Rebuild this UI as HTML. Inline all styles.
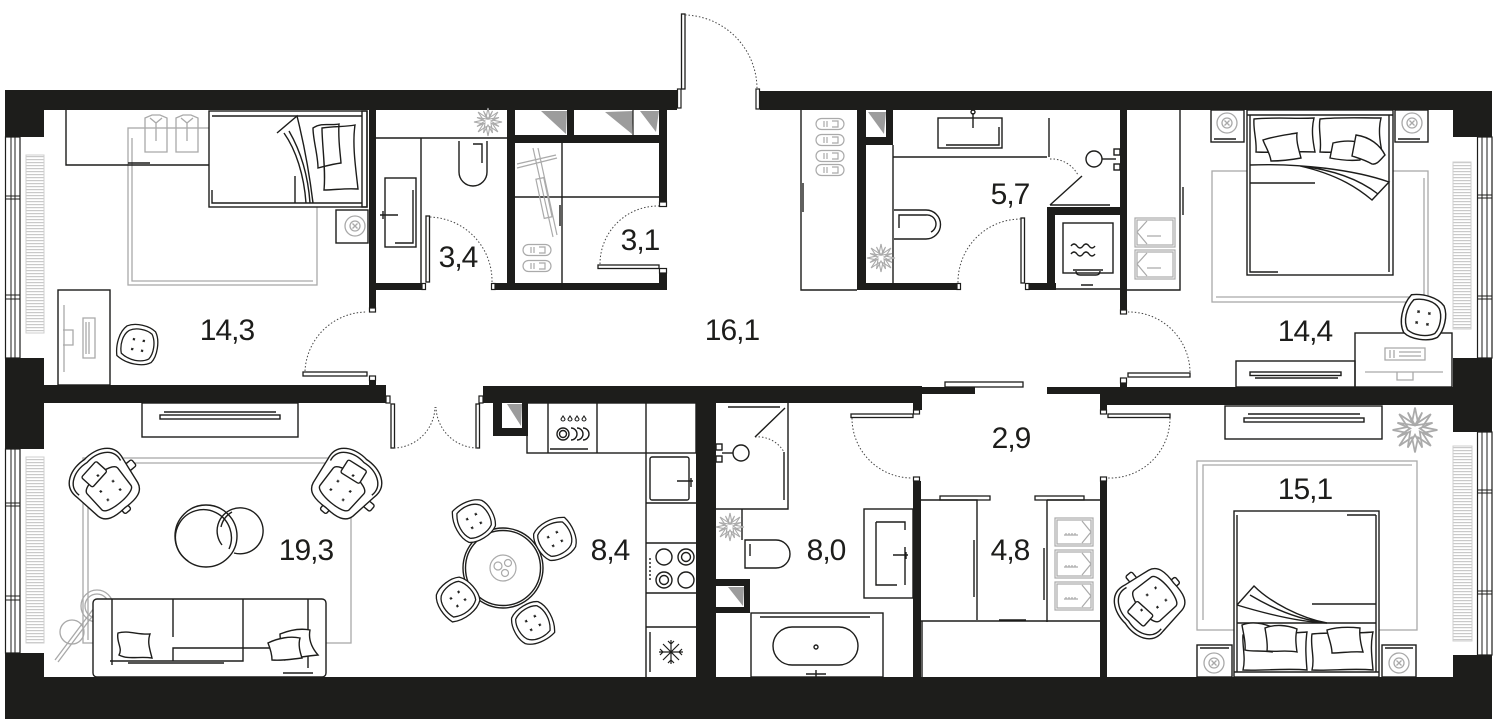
<!DOCTYPE html>
<html><head><meta charset="utf-8">
<style>
html,body{margin:0;padding:0;background:#fff;}
svg{display:block;}
.lbl{font-family:"Liberation Sans",sans-serif;font-size:30px;fill:#1d1d1b;letter-spacing:-1px;text-anchor:middle;}
</style></head><body>
<svg width="1500" height="726" viewBox="0 0 1500 726" xmlns="http://www.w3.org/2000/svg">
<defs>
<pattern id="rad" width="6" height="3" patternUnits="userSpaceOnUse"><rect width="6" height="3" fill="#fff"/><rect width="6" height="1.2" fill="#c9c9c9"/></pattern>
<g id="chair" fill="#fff" stroke="#1d1d1b" stroke-width="1.3">
<path d="M-14,-19 C-4,-22 10,-21 17,-14 C22,-6 21,8 16,15 C8,21 -8,21 -15,16 C-21,8 -21,-8 -14,-19Z"/>
<path d="M-11,-15 C-3,-18 8,-17 13,-11 C17,-5 17,6 13,12 C6,17 -6,17 -12,13 C-17,6 -17,-6 -11,-15Z" fill="none"/>
<path d="M-6,-6l2,2m0,-2l-2,2 M4,-6l2,2m0,-2l-2,2 M-6,4l2,2m0,-2l-2,2 M4,4l2,2m0,-2l-2,2" fill="none" stroke-width="1.1"/>
</g>
<g id="arm" fill="#fff" stroke="#1d1d1b" stroke-width="1.4">
<rect x="-4" y="27" width="8" height="9" rx="2"/>
<rect x="27" y="-2" width="9" height="8" rx="2"/>
<path d="M-30,-8 C-34,-26 -16,-34 0,-32 C16,-34 34,-26 30,-8 L26,20 C24,30 14,32 0,31 C-14,32 -24,30 -26,20 Z"/>
<path d="M-27,-8 C-30,-23 -14,-30 0,-28 C14,-30 30,-23 27,-8" fill="none"/>
<path d="M-20,-4 C-20,-14 20,-14 20,-4 L19,18 C18,26 -18,26 -19,18 Z"/>
<rect x="-11" y="-22" width="22" height="15" rx="2" transform="rotate(-8)"/>
<path d="M-9,2l2,2m0,-2l-2,2 M7,2l2,2m0,-2l-2,2 M-9,13l2,2m0,-2l-2,2 M7,13l2,2m0,-2l-2,2 M-1,-12l2,2m0,-2l-2,2" fill="none" stroke-width="1.1"/>
</g>
<g id="ns" fill="none" stroke="#a9a9a9" stroke-width="1.3"><circle r="10"/><circle r="5"/><path d="M-2.5,-2.5l5,5m0,-5l-5,5"/></g>
<g id="plant" fill="none" stroke="#aaa" stroke-width="1.1">
<polygon points="14,0 4.6,1.9 9.9,9.9 1.9,4.6 0,14 -1.9,4.6 -9.9,9.9 -4.6,1.9 -14,0 -4.6,-1.9 -9.9,-9.9 -1.9,-4.6 0,-14 1.9,-4.6 9.9,-9.9 4.6,-1.9"/>
<polygon points="11,4.5 3,1 4.5,11 0,3 -4.5,11 -3,1 -11,4.5 -3,-1 -11,-4.5 -1,-3 -4.5,-11 0,-3 4.5,-11 1,-3 11,-4.5 3,-1"/>
</g>
<g id="shoe" fill="none" stroke="#aaa" stroke-width="1.2"><rect x="-14" y="-5.5" width="28" height="11" rx="5.5"/><path d="M-6,-3v6 M-3,-3v6 M2,-3h6v6h-6"/></g>
<g id="box" fill="none" stroke="#aaa" stroke-width="1.2"><rect x="-19" y="-14" width="38" height="28"/><rect x="-17" y="-12" width="34" height="24"/><path d="M8,-11 L17,0 L8,11 M-10,3h14 M-8,1v2 M-5,1v2 M-2,1v2 M1,1v2"/></g>
</defs>

<!-- radiators -->
<g stroke="#cfcfcf" stroke-width="1">
<rect x="26" y="155" width="18" height="178" fill="url(#rad)"/>
<rect x="26" y="457" width="18" height="186" fill="url(#rad)"/>
<rect x="1453" y="162" width="18" height="167" fill="url(#rad)"/>
<rect x="1453" y="446" width="19" height="195" fill="url(#rad)"/>
</g>

<!-- windows -->
<g fill="#fff" stroke="#1d1d1b" stroke-width="1.2">
<rect x="5.5" y="137" width="14.5" height="221"/><rect x="5.5" y="449" width="14.5" height="204"/>
<rect x="1477.5" y="137" width="14.5" height="221"/><rect x="1477.5" y="432" width="14.5" height="223"/>
</g>
<g stroke="#1d1d1b" stroke-width="1">
<path d="M11,137V358 M15,137V358 M11,449V653 M15,449V653 M1482,137V358 M1487,137V358 M1482,432V655 M1487,432V655"/>
<path d="M5,196H20 M5,199H20 M5,295H20 M5,299H20 M5,503H20 M5,506H20 M5,596H20 M5,600H20 M1477,195H1492 M1477,198H1492 M1477,296H1492 M1477,299H1492 M1477,490H1492 M1477,493H1492 M1477,591H1492 M1477,594H1492"/>
</g>

<!-- walls -->
<g fill="#1d1d1b">
<rect x="5" y="90" width="672" height="20"/>
<rect x="760" y="91" width="732" height="19"/>
<rect x="5" y="90" width="39" height="47"/>
<rect x="5" y="358" width="39" height="91"/>
<rect x="5" y="385" width="381" height="18"/>
<rect x="5" y="653" width="39" height="66"/>
<rect x="5" y="677" width="1487" height="42"/>
<rect x="1453" y="91" width="39" height="46"/>
<rect x="1453" y="358" width="39" height="74"/>
<rect x="1453" y="655" width="39" height="64"/>
<rect x="1100" y="387" width="353" height="18"/>
<rect x="369" y="110" width="7" height="198"/>
<rect x="369" y="380" width="7" height="6"/>
<rect x="376" y="283" width="46" height="7"/>
<rect x="507" y="110" width="8" height="180"/>
<rect x="495" y="283" width="172" height="7"/>
<rect x="507" y="135" width="160" height="8"/>
<rect x="567" y="110" width="7" height="26"/>
<rect x="659" y="110" width="8" height="92"/>
<rect x="659" y="273" width="8" height="17"/>
<rect x="857" y="110" width="9" height="180"/>
<rect x="886" y="110" width="7" height="35"/>
<rect x="857" y="137" width="36" height="8"/>
<rect x="857" y="283" width="100" height="7"/>
<rect x="1029" y="283" width="27" height="7"/>
<rect x="1047" y="207" width="8" height="83"/>
<rect x="1047" y="207" width="80" height="8"/>
<rect x="1120" y="110" width="7" height="200"/>
<rect x="1120" y="383" width="7" height="5"/>
<rect x="483" y="386" width="439" height="17"/>
<rect x="922" y="387" width="53" height="7"/>
<rect x="1047" y="387" width="53" height="7"/>
<rect x="913" y="403" width="9" height="7"/>
<rect x="1100" y="403" width="7" height="7"/>
<rect x="493" y="403" width="35" height="33"/>
<rect x="696" y="403" width="20" height="274"/>
<rect x="913" y="481" width="8" height="196"/>
<rect x="1100" y="481" width="7" height="196"/>
<rect x="716" y="579" width="34" height="34"/>
</g>
<!-- shafts inner -->
<rect x="502" y="403" width="20" height="25" fill="#fff"/>
<polygon points="507,404 522,404 521,426" fill="#9c9c9c"/>
<rect x="716" y="586" width="28" height="21" fill="#fff"/>
<polygon points="728,587 744,587 743,606" fill="#9c9c9c"/>
<!-- shelf cells top -->
<g fill="#9c9c9c">
<polygon points="541,111 567,111 566,134"/>
<polygon points="605,112 633,111 632,134"/>
<polygon points="640,111 659,111 656,132"/>
<polygon points="868,112 886,112 884,134"/>
</g>
<line x1="633" y1="110" x2="633" y2="135" stroke="#1d1d1b" stroke-width="1.2"/>

<!-- jambs -->
<g fill="#fff" stroke="#1d1d1b" stroke-width="1.2">
<rect x="677.5" y="89" width="3.5" height="19"/>
<rect x="756" y="89" width="3.5" height="20"/>
<rect x="369.5" y="308" width="6" height="4"/>
<rect x="369.5" y="376" width="6" height="4.5"/>
<rect x="422" y="283.5" width="3.5" height="6"/>
<rect x="491.5" y="283.5" width="3.5" height="6"/>
<rect x="659.5" y="202" width="7" height="4.5"/>
<rect x="659.5" y="268.5" width="7" height="4.5"/>
<rect x="957" y="283.5" width="3.5" height="6"/>
<rect x="1025.5" y="283.5" width="3.5" height="6"/>
<rect x="1120.5" y="310" width="6" height="4"/>
<rect x="1120.5" y="378" width="6" height="5"/>
<rect x="386" y="396" width="4" height="7"/>
<rect x="479" y="396" width="4" height="7"/>
<rect x="913.5" y="410" width="6" height="4"/>
<rect x="1100.5" y="410" width="6" height="4"/>
<rect x="913.5" y="477" width="6" height="4"/>
<rect x="1100.5" y="477" width="6" height="4"/>
</g>

<!-- door leaves -->
<g fill="#fff" stroke="#1d1d1b" stroke-width="1.3">
<rect x="681.5" y="14" width="3.5" height="75"/>
<rect x="303" y="372" width="64" height="4"/>
<rect x="426" y="216" width="3.5" height="66"/>
<rect x="598" y="265" width="61" height="3.5"/>
<rect x="1021" y="218" width="3.5" height="65"/>
<rect x="1128" y="373" width="62" height="4"/>
<rect x="391" y="404" width="3.5" height="44"/>
<rect x="476" y="404" width="3.5" height="44"/>
<rect x="851" y="414" width="62" height="3.5"/>
<rect x="1108" y="414" width="62" height="3.5"/>
<rect x="945" y="382" width="78" height="5"/>
<rect x="940" y="496" width="50" height="4"/>
<rect x="1035" y="496" width="49" height="4"/>
</g>
<g fill="none" stroke="#444" stroke-width="1" stroke-dasharray="1.5 2">
<path d="M685,15 A74,74 0 0 1 757,88"/>
<path d="M305,371 A62,62 0 0 1 367,312"/>
<path d="M430,217 A64,64 0 0 1 492,282"/>
<path d="M600,264 A58,58 0 0 1 659,206"/>
<path d="M1021,219 A63,63 0 0 0 958,283"/>
<path d="M1190,372 A61,61 0 0 0 1128,312"/>
<path d="M394,448 A42,42 0 0 0 435,407"/>
<path d="M477,448 A42,42 0 0 1 436,407"/>
<path d="M852,418 A60,60 0 0 0 912,478"/>
<path d="M1170,418 A60,60 0 0 1 1108,478"/>
<path d="M1050,159 A30,30 0 0 1 1078,175"/>
<path d="M755,437 A30,30 0 0 1 784,452"/>
</g>

<!-- ===== BEDROOM 14,3 ===== -->
<g fill="none" stroke="#a9a9a9" stroke-width="1.3">
<rect x="128" y="128" width="189" height="157"/>
<path d="M132,138 V281 H313"/>
<path d="M145,118 l7,-3 h8 l7,3 v34 h-22z M150,118 l6,5 6,-5 M156,123 v18" />
<path d="M176,118 l7,-3 h8 l7,3 v34 h-22z M181,118 l6,5 6,-5 M187,123 v18" />
<path d="M64,305 V372 M63,330 h10 v15 h-10 M83,318 h12 v40 h-12z M86,322 v32 M89,322 v32"/>
</g>
<g fill="none" stroke="#1d1d1b" stroke-width="1.4">
<path d="M66,110 V165 H209"/>
<path d="M128,163 H150"/>
<rect x="209" y="111" width="158" height="96" fill="#fff"/>
<path d="M212,116 H362 M212,190 V203 H362 M295,176 V203"/>
<rect x="362" y="111" width="5" height="96"/>
<path d="M277,133 L297,116 C303,140 309,170 313,203 M284,133 C296,150 304,175 306,203 M289,131 C300,150 308,175 310,203"/>
<path d="M322,128 C335,126 345,127 355,125 C352,145 356,170 358,189 C345,188 335,190 324,190 C326,170 322,145 322,128Z"/>
<path d="M313,128 C322,122 330,126 339,124 C338,140 340,150 341,163 C333,164 326,166 318,168 C318,155 313,140 313,128Z"/>
<rect x="336" y="210" width="32" height="33"/>
<rect x="58" y="290" width="52" height="95"/>
</g>
<use href="#ns" x="355" y="226"/>
<use href="#chair" transform="translate(138,345) rotate(-80)"/>

<!-- ===== BATH 3,4 ===== -->
<use href="#plant" x="488" y="122"/>
<g fill="none" stroke="#1d1d1b" stroke-width="1.4">
<path d="M376,138 H507 M421,138 V283"/>
<path d="M459,141 V172 A14,14 0 0 0 487,172 V141"/>
<path d="M473,144 H482 V163"/>
<rect x="385" y="178" width="31" height="69"/>
<path d="M413,190 V243 H395"/>
<path d="M380,215 H398 M383,211 V219"/>
</g>

<!-- ===== STORAGE 3,1 ===== -->
<g fill="none" stroke="#1d1d1b" stroke-width="1.4">
<path d="M515,197 H659 M562,143 V290 M560,205 V226"/>
</g>
<g fill="none" stroke="#aaa" stroke-width="1.2">
<path d="M533,148 L553,237 M538,148 L557,235 M517,168 L557,158 M517,164 L556,155"/>
<rect x="540" y="178" width="8" height="40" transform="rotate(-12 544 198)"/>
</g>
<use href="#shoe" x="537" y="250"/>
<use href="#shoe" x="537" y="266"/>

<!-- ===== HALL RIGHT: wardrobe + BATH 5,7 ===== -->
<g fill="none" stroke="#1d1d1b" stroke-width="1.4">
<path d="M801,110 V290 H857 M803,183 V212"/>
<path d="M893,145 V283 M893,157 H1047"/>
<rect x="938" y="118" width="64" height="30"/>
<path d="M999,127 V145 H946 M973,113 V128"/>
<circle cx="973" cy="112" r="2"/>
<path d="M894,210 H926 A14.5,14.5 0 0 1 926,239 H894"/>
<path d="M899,228 V215 H926 A9,9 0 0 1 931,232"/>
<path d="M1049,118 V157 M1050,205 H1110 M1050,205 L1082,176"/>
<circle cx="1094" cy="159" r="8"/>
<path d="M1102,159 H1116"/>
<rect x="1114" y="149" width="6" height="6"/><rect x="1114" y="164" width="6" height="6"/>
<rect x="1063" y="223" width="50" height="50"/>
<path d="M1071,246 q3,-4 6,0 t6,0 t6,0 t6,0 M1071,254 q3,-4 6,0 t6,0 t6,0 t6,0"/>
<path d="M1073,270 H1103 M1076,271 q0,4 4,4 h16 q4,0 4,-4"/>
<path d="M1056,289 H1120 M1081,285 H1093"/>
<path d="M1127,290 H1180 V110 M1183,187 V215"/>
</g>
<use href="#shoe" x="830" y="124"/><use href="#shoe" x="830" y="140"/>
<use href="#shoe" x="830" y="156"/><use href="#shoe" x="830" y="170"/>
<use href="#plant" x="881" y="258"/>
<g fill="none" stroke="#aaa" stroke-width="1.2">
<rect x="1135" y="218" width="40" height="29"/><rect x="1137" y="220" width="36" height="25"/>
<rect x="1135" y="250" width="40" height="29"/><rect x="1137" y="252" width="36" height="25"/>
<path d="M1147,221 L1137,232 L1147,244 M1147,236 h14 M1147,253 L1137,264 L1147,276 M1147,268 h14"/>
</g>

<!-- ===== BEDROOM 14,4 ===== -->
<g fill="none" stroke="#a9a9a9" stroke-width="1.3">
<rect x="1212" y="171" width="216" height="131"/>
<path d="M1216,297 H1424 V178"/>
<path d="M1385,348 h40 v12 h-40z M1390,350 v8 M1394,350 v8 M1399,352 h22 M1399,356 h22 M1365,372 h78 M1397,372 v8 h16 v-8"/>
</g>
<g fill="none" stroke="#1d1d1b" stroke-width="1.4">
<rect x="1211" y="110" width="33" height="32"/>
<rect x="1395" y="110" width="33" height="32"/>
<path d="M1214,139 H1236 M1398,139 H1420"/>
<rect x="1247" y="110" width="146" height="165" fill="#fff"/>
<path d="M1247,115 H1393 M1250,115 V272 H1278 M1389,115 V272"/>
<path d="M1254,119 C1275,117 1295,119 1314,118 C1311,130 1313,142 1315,152 C1295,151 1275,153 1256,152 C1257,140 1253,130 1254,119Z"/>
<path d="M1320,119 C1340,117 1360,118 1381,118 C1378,130 1380,142 1382,152 C1362,151 1340,153 1320,152 C1322,140 1318,130 1320,119Z"/>
<path d="M1263,140 C1275,136 1285,135 1297,133 C1296,142 1299,150 1301,158 C1290,160 1280,161 1271,161 C1270,153 1265,146 1263,140Z" fill="#fff"/>
<path d="M1333,143 C1345,140 1355,141 1362,143 L1360,160 C1350,161 1340,160 1330,158Z" fill="#fff"/>
<path d="M1356,135 C1370,137 1380,145 1385,155 C1380,160 1377,165 1372,164 C1365,160 1358,158 1352,156Z" fill="#fff"/>
<path d="M1250,165 C1300,163 1355,170 1389,182 L1372,200 C1360,190 1340,175 1300,166 M1300,166 C1335,170 1360,180 1378,194"/>
<path d="M1250,183 H1315"/>
<rect x="1355" y="333" width="97" height="54" fill="#fff"/>
<rect x="1236" y="361" width="119" height="26"/>
<rect x="1250" y="372" width="91" height="3.5"/>
<path d="M1255,378 H1338"/>
</g>
<use href="#ns" x="1227" y="123"/>
<use href="#ns" x="1412" y="123"/>
<g fill="none" stroke="#a9a9a9" stroke-width="1.3">
<path d="M1385,348 h40 v12 h-40z M1390,350 v8 M1394,350 v8 M1399,352 h22 M1399,356 h22 M1365,372 h78 M1397,372 v8 h16 v-8"/>
</g>
<use href="#chair" transform="translate(1423,318) scale(1.1) rotate(10)"/>

<!-- ===== LIVING 19,3 ===== -->
<g fill="none" stroke="#a9a9a9" stroke-width="1.3">
<rect x="83" y="458" width="268" height="185"/>
<path d="M88,640 V463 H346"/>
<circle cx="97" cy="606" r="16"/><circle cx="97" cy="606" r="12"/>
<circle cx="72" cy="632" r="12"/>
<path d="M55,660 L94,608 M58,662 L97,610"/>
</g>
<g fill="none" stroke="#1d1d1b" stroke-width="1.4">
<rect x="142" y="403" width="156" height="34"/>
<rect x="160" y="415" width="120" height="4"/>
<path d="M164,412 H276"/>
<circle cx="206" cy="536" r="31"/>
<path d="M188,561 A28,28 0 1 1 229,549"/>
<path d="M222,545 A23,23 0 1 1 234,553"/>
<path d="M221,527 A23,23 0 0 1 232,512" />
<rect x="93" y="599" width="233" height="78" rx="4" fill="#fff"/>
<path d="M112,599 V665 M173,599 V637 M243,599 V660 M308,599 V668 M110,661 H173 M173,648 H243 V661 H173Z M243,648 H308"/>
<path d="M128,663 H224 M283,673 H313"/>
<path d="M118,633 C128,630 138,635 150,634 C147,642 150,650 152,658 C140,656 128,660 119,655 C123,648 116,642 118,633Z" fill="#fff"/>
<path d="M280,634 C290,630 300,628 310,630 C308,640 312,648 318,655 C306,656 295,658 285,660 C283,652 280,642 280,634Z" fill="#fff"/>
<path d="M268,643 C278,638 290,636 300,638 C298,645 300,652 302,658 C292,659 282,661 272,660 C272,655 270,648 268,643Z" fill="#fff"/>
</g>
<use href="#arm" transform="translate(105,484) rotate(-40)"/>
<use href="#arm" transform="translate(346,484) rotate(40)"/>

<!-- ===== KITCHEN 8,4 ===== -->
<g fill="none" stroke="#1d1d1b" stroke-width="1.4">
<rect x="527" y="403" width="169" height="50"/>
<path d="M548,403 V453 M597,403 V453 M646,403 V677 M646,503 H696 M646,543 H696 M646,593 H696 M646,627 H696"/>
<path d="M550,449 H588"/>
<circle cx="563" cy="434" r="6"/><circle cx="563" cy="434" r="3.5"/>
<path d="M571,428 a6,6 0 0 1 0,12 M577,428 a6,6 0 0 1 0,12 M583,428 a6,6 0 0 1 0,12"/>
<path d="M563,416 l-2,3 a2,2 0 0 0 4,0z M570,416 l-2,3 a2,2 0 0 0 4,0z M577,416 l-2,3 a2,2 0 0 0 4,0z M584,416 l-2,3 a2,2 0 0 0 4,0z" stroke-width="1.1"/>
<rect x="650" y="457" width="39" height="43" rx="2"/>
<path d="M677,481 H693 M691,478 V487"/>
<circle cx="664" cy="557" r="8"/><circle cx="686" cy="557" r="8"/><circle cx="686" cy="557" r="4.5"/>
<circle cx="664" cy="580" r="8"/><circle cx="664" cy="580" r="4.5"/><circle cx="686" cy="580" r="8"/>
<path d="M650,558 V581" stroke-dasharray="2 2"/>
<path d="M650,632 V672"/>
<path d="M671,640 V664 M659,652 H683 M663,644 L679,660 M679,644 L663,660 M668,641 l3,3 3,-3 M668,663 l3,-3 3,3 M660,649 l3,3 -3,3 M682,649 l-3,3 3,3" stroke-width="1.2"/>
<circle cx="503" cy="568" r="40" fill="#fff"/>
<circle cx="503" cy="568" r="37.5"/>
</g>
<g fill="none" stroke="#aaa" stroke-width="1.2">
<circle cx="503" cy="568" r="13"/>
<circle cx="498" cy="566" r="4"/><circle cx="508" cy="563" r="3.5"/><circle cx="505" cy="573" r="3.5"/>
</g>
<use href="#chair" transform="translate(474,521) rotate(-30)"/>
<use href="#chair" transform="translate(555,539) rotate(60)"/>
<use href="#chair" transform="translate(533,623) rotate(150)"/>
<use href="#chair" transform="translate(458,599) rotate(230)"/>

<!-- ===== BATH 8,0 ===== -->
<g fill="none" stroke="#1d1d1b" stroke-width="1.4">
<path d="M788,403 V509 H716 M728,407 H780 M785,408 L755,437 M784,452 V500"/>
<circle cx="741" cy="453" r="8"/>
<path d="M722,453 H733"/>
<rect x="716" y="444" width="6" height="6"/><rect x="716" y="456" width="6" height="6"/>
<path d="M742,509 V540"/>
<path d="M745,540 H776 A14,14 0 0 1 776,568 H745 Z"/>
<path d="M750,544 V556"/>
<rect x="751" y="613" width="132" height="64"/>
<path d="M760,617 H870"/>
<rect x="773" y="627" width="85" height="38" rx="19"/>
<circle cx="816" cy="647" r="2"/>
<path d="M816,670 V677 M806,674 H826"/>
<rect x="864" y="509" width="49" height="89"/>
<path d="M876,522 V585 H897 M876,522 H905 V530 M905,547 V585"/>
<path d="M893,555 H908 M906,552 V559"/>
</g>
<use href="#plant" x="730" y="527"/>

<!-- ===== 4,8 ===== -->
<g fill="none" stroke="#1d1d1b" stroke-width="1.4">
<path d="M921,500 H977 V620 M1047,500 H1100 M1047,500 V622 M921,621 H1100 M922,621 V677"/>
<path d="M974,540 V597 M1044,548 V600 M999,620 H1026"/>
</g>
<use href="#box" x="1074" y="532"/>
<use href="#box" x="1074" y="564"/>
<use href="#box" x="1074" y="596"/>

<!-- ===== BEDROOM 15,1 ===== -->
<g fill="none" stroke="#a9a9a9" stroke-width="1.3">
<rect x="1197" y="461" width="220" height="169"/>
<path d="M1203,620 V465 H1412"/>
</g>
<use href="#plant" transform="translate(1415,430) scale(1.6)"/>
<g fill="none" stroke="#1d1d1b" stroke-width="1.4">
<rect x="1225" y="406" width="157" height="33"/>
<rect x="1244" y="418" width="120" height="4"/>
<path d="M1248,414 H1360"/>
<rect x="1234" y="511" width="145" height="166" fill="#fff"/>
<path d="M1237,515 V672 M1376,515 V672 M1347,515 H1376 M1312,604 H1376 M1237,623 H1376 M1234,672 H1379"/>
<path d="M1237,605 L1254,586 C1270,602 1300,618 1327,623 M1237,605 C1270,615 1300,622 1327,623 M1250,595 C1275,610 1300,620 1327,623"/>
<path d="M1243,635 C1262,632 1285,634 1307,632 C1305,645 1306,658 1307,670 C1285,668 1262,671 1243,670 C1246,658 1242,645 1243,635Z" fill="#fff"/>
<path d="M1312,634 C1330,632 1352,634 1373,632 C1370,645 1372,658 1373,670 C1352,668 1330,671 1312,670 C1315,658 1310,645 1312,634Z" fill="#fff"/>
<path d="M1242,625 C1252,621 1262,623 1272,627 C1270,635 1271,643 1272,652 C1262,650 1252,652 1245,650 C1246,642 1243,632 1242,625Z" fill="#fff"/>
<path d="M1265,628 C1275,624 1287,625 1297,629 C1295,637 1296,645 1297,652 C1287,650 1277,652 1267,651 C1268,643 1266,635 1265,628Z" fill="#fff"/>
<path d="M1327,630 C1337,627 1350,627 1360,628 C1359,637 1361,645 1363,652 C1352,651 1342,653 1332,653 C1332,645 1328,637 1327,630Z" fill="#fff"/>
<rect x="1197" y="645" width="35" height="32"/>
<rect x="1382" y="645" width="34" height="32"/>
<path d="M1200,648 H1229 M1385,648 H1413"/>
</g>
<use href="#ns" x="1214" y="663"/>
<use href="#ns" x="1399" y="663"/>
<use href="#arm" transform="translate(1150,603) rotate(-130)"/>

<!-- labels -->
<text class="lbl" x="227" y="340">14,3</text>
<text class="lbl" x="458" y="267">3,4</text>
<text class="lbl" x="640" y="250">3,1</text>
<text class="lbl" x="732" y="340">16,1</text>
<text class="lbl" x="1010" y="204">5,7</text>
<text class="lbl" x="1305" y="341">14,4</text>
<text class="lbl" x="306" y="560">19,3</text>
<text class="lbl" x="610" y="560">8,4</text>
<text class="lbl" x="826" y="560">8,0</text>
<text class="lbl" x="1011" y="448">2,9</text>
<text class="lbl" x="1010" y="560">4,8</text>
<text class="lbl" x="1305" y="499">15,1</text>
</svg>
</body></html>
